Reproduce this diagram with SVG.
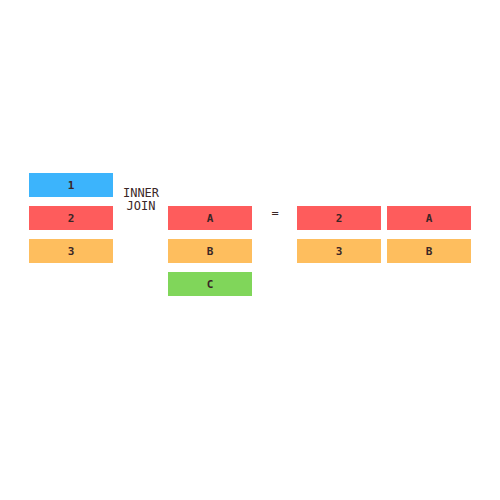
<svg xmlns="http://www.w3.org/2000/svg" width="500" height="500" viewBox="0 0 500 500">
<style>
.b{stroke:none}
.t{font-family:"DejaVu Sans Mono","Liberation Mono",monospace;font-size:11px;font-weight:bold;fill:#3a2626;text-anchor:middle;dominant-baseline:central}
.l{font-family:"DejaVu Sans Mono","Liberation Mono",monospace;font-size:12px;fill:#3a2626;text-anchor:middle;dominant-baseline:central}
.blue{fill:#3cb4fc}.red{fill:#fe5c5c}.org{fill:#febe5e}.grn{fill:#80d65a}
</style>
<rect width="500" height="500" fill="#fff"/>
<g id="l1"><rect class="b blue" x="29" y="173" width="84" height="24"/><text class="t" x="71" y="185">1</text></g>
<g id="l2"><rect class="b red" x="29" y="206" width="84" height="24"/><text class="t" x="71" y="218">2</text></g>
<g id="l3"><rect class="b org" x="29" y="239" width="84" height="24"/><text class="t" x="71" y="251">3</text></g>
<g id="op"><text class="l" x="141" y="193">INNER</text><text class="l" x="141" y="206">JOIN</text></g>
<g id="mA"><rect class="b red" x="168" y="206" width="84" height="24"/><text class="t" x="210" y="218">A</text></g>
<g id="mB"><rect class="b org" x="168" y="239" width="84" height="24"/><text class="t" x="210" y="251">B</text></g>
<g id="mC"><rect class="b grn" x="168" y="272" width="84" height="24"/><text class="t" x="210" y="284">C</text></g>
<g id="eq"><text class="l" x="275" y="213">=</text></g>
<g id="r2"><rect class="b red" x="297" y="206" width="84" height="24"/><text class="t" x="339" y="218">2</text></g>
<g id="rA"><rect class="b red" x="387" y="206" width="84" height="24"/><text class="t" x="429" y="218">A</text></g>
<g id="r3"><rect class="b org" x="297" y="239" width="84" height="24"/><text class="t" x="339" y="251">3</text></g>
<g id="rB"><rect class="b org" x="387" y="239" width="84" height="24"/><text class="t" x="429" y="251">B</text></g>
<g id="connectors"/>
</svg>
